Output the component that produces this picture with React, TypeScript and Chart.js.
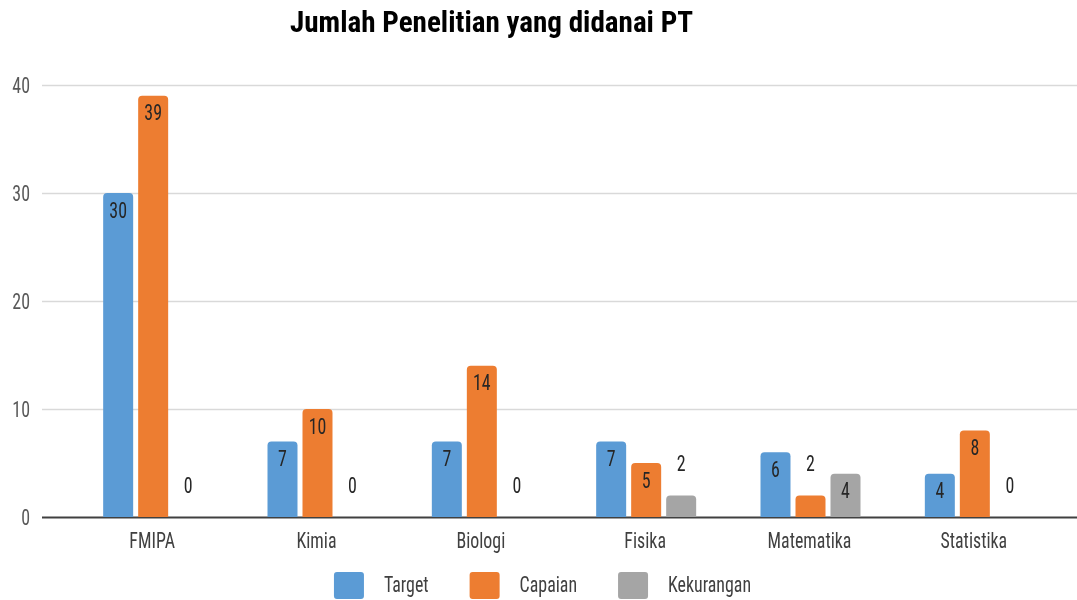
import React, { useEffect, useRef } from "react";
import { Chart, registerables } from "chart.js";

Chart.register(...registerables);

const TITLE = "Jumlah Penelitian yang didanai PT";
const CATEGORIES = ["FMIPA", "Kimia", "Biologi", "Fisika", "Matematika", "Statistika"];
const SERIES_NAMES = ["Target", "Capaian", "Kekurangan"];
const TARGET = [30, 7, 7, 7, 6, 4];
const CAPAIAN = [39, 10, 14, 5, 2, 8];
const KEKURANGAN = [0, 0, 0, 2, 4, 0];
const Y_MIN = 0;
const Y_MAX = 40;
const Y_STEP = 10;

const COLORS = ["#5B9BD5", "#ED7D31", "#A5A5A5"];
const FONT = "'Roboto Condensed', 'DejaVu Sans Condensed', sans-serif";
const LABEL_SIZE = 22;
const TITLE_SIZE = 30;

function drawText(ctx: CanvasRenderingContext2D, text: string, x: number, y: number, align: CanvasTextAlign, sx: number) {
  ctx.save();
  ctx.translate(x, y);
  ctx.scale(sx, 1);
  ctx.textAlign = align;
  ctx.textBaseline = "alphabetic";
  ctx.fillText(text, 0, 0);
  ctx.restore();
}

function labelScale(ctx: CanvasRenderingContext2D) {
  ctx.font = `${LABEL_SIZE}px ${FONT}`;
  const w = ctx.measureText("Kekurangan").width;
  return w > 0 ? 83 / w : 1;
}

const customPlugin = {
  id: "custom",
  beforeDatasetsDraw(chart: any) {
    const ctx = chart.ctx;
    const y = chart.scales.y;
    const x = chart.scales.x;
    ctx.save();
    const sx = labelScale(ctx);
    for (let v = Y_MIN; v <= Y_MAX; v += Y_STEP) {
      const py = Math.round(y.getPixelForValue(v)) + 0.5;
      ctx.beginPath();
      ctx.moveTo(42, py);
      ctx.lineTo(chart.width, py);
      if (v === 0) {
        ctx.strokeStyle = "#404040";
        ctx.lineWidth = 2;
      } else {
        ctx.strokeStyle = "#D9D9D9";
        ctx.lineWidth = 1.5;
      }
      ctx.stroke();
      ctx.font = `${LABEL_SIZE}px ${FONT}`;
      ctx.fillStyle = "#595959";
      drawText(ctx, String(v), 30, py + 7.5, "right", sx);
    }
    ctx.font = `${LABEL_SIZE}px ${FONT}`;
    ctx.fillStyle = "#404040";
    CATEGORIES.forEach((c, i) => {
      drawText(ctx, c, x.getPixelForValue(i) - 1, 548, "center", sx);
    });
    ctx.restore();
  },
  afterDatasetsDraw(chart: any) {
    const ctx = chart.ctx;
    ctx.save();
    const sx = labelScale(ctx);
    ctx.font = `${LABEL_SIZE}px ${FONT}`;
    ctx.fillStyle = "#262626";
    chart.data.datasets.forEach((ds: any, di: number) => {
      const meta = chart.getDatasetMeta(di);
      meta.data.forEach((el: any, i: number) => {
        const v = ds.data[i];
        const ty = v >= 4 ? el.y + 24.5 : el.y - 24;
        drawText(ctx, String(v), el.x, ty, "center", sx);
      });
    });
    ctx.restore();
  },
  afterDraw(chart: any) {
    const ctx = chart.ctx;
    ctx.save();
    // title
    ctx.font = `bold ${TITLE_SIZE}px ${FONT}`;
    ctx.fillStyle = "#000000";
    const tw = ctx.measureText(TITLE).width;
    const tsx = tw > 0 ? 403 / tw : 1;
    drawText(ctx, TITLE, 491.5, 32, "center", tsx);
    // legend
    const sx = labelScale(ctx);
    ctx.font = `${LABEL_SIZE}px ${FONT}`;
    const boxW = 30, boxH = 27, gapText = 20, gapItem = 41;
    const names = chart.data.datasets.map((d: any) => d.label);
    const widths = names.map((n: string) => ctx.measureText(n).width * sx);
    let total = 0;
    widths.forEach((w: number, i: number) => {
      total += boxW + gapText + w + (i < widths.length - 1 ? gapItem : 0);
    });
    let x = 542.5 - total / 2;
    const by = 572;
    names.forEach((n: string, i: number) => {
      ctx.fillStyle = chart.data.datasets[i].backgroundColor;
      ctx.beginPath();
      (ctx as any).roundRect ? (ctx as any).roundRect(x, by, boxW, boxH, 3) : ctx.rect(x, by, boxW, boxH);
      ctx.fill();
      ctx.fillStyle = "#404040";
      drawText(ctx, n, x + boxW + gapText, 592, "left", sx);
      x += boxW + gapText + widths[i] + gapItem;
    });
    ctx.restore();
  },
};

export default function App() {
  const ref = useRef<HTMLCanvasElement | null>(null);
  useEffect(() => {
    if (!ref.current) return;
    const values = [TARGET, CAPAIAN, KEKURANGAN];
    const chart = new Chart(ref.current, {
      type: "bar",
      data: {
        labels: CATEGORIES,
        datasets: SERIES_NAMES.map((name, i) => ({
          label: name,
          data: values[i],
          backgroundColor: COLORS[i],
          borderRadius: { topLeft: 4, topRight: 4, bottomLeft: 0, bottomRight: 0 },
          borderSkipped: false,
          categoryPercentage: 0.639,
          barPercentage: 0.857,
        })),
      },
      options: {
        animation: false,
        responsive: false,
        maintainAspectRatio: false,
        layout: { padding: { top: 85, right: 20, left: 0, bottom: 0 } },
        plugins: {
          legend: { display: false },
          title: { display: false },
          tooltip: { enabled: false },
        },
        scales: {
          x: {
            grid: { display: false, drawTicks: false },
            border: { display: false },
            ticks: { display: false },
            afterFit: (s: any) => {
              s.height = 83;
            },
          },
          y: {
            min: Y_MIN,
            max: Y_MAX,
            grid: { display: false, drawTicks: false },
            border: { display: false },
            ticks: { display: false, stepSize: Y_STEP },
            afterFit: (s: any) => {
              s.width = 71;
            },
          },
        },
      },
      plugins: [customPlugin],
    });
    return () => chart.destroy();
  }, []);
  return (
    <div style={{ position: "absolute", left: 0, top: 0, width: 1077, height: 600, background: "#fff" }}>
      <canvas ref={ref} width={1077} height={600} style={{ display: "block" }} />
    </div>
  );
}
